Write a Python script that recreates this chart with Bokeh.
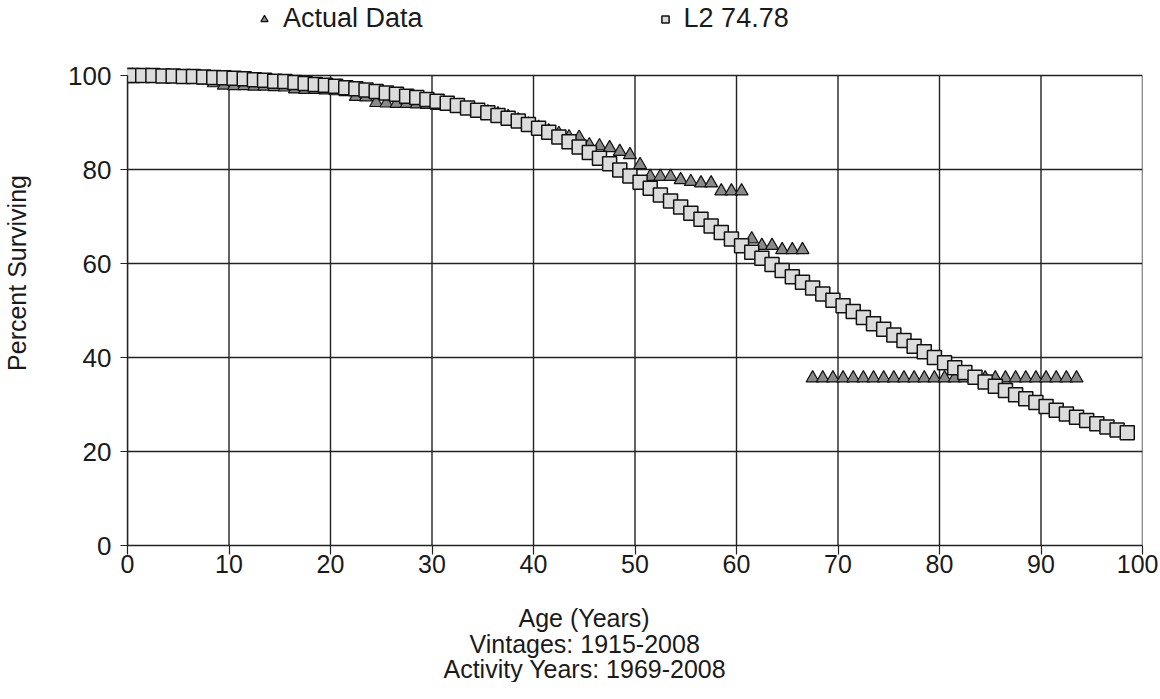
from bokeh.plotting import figure
from bokeh.models import Legend, LegendItem, Title, FixedTicker
from bokeh.embed import file_html
from bokeh.resources import INLINE

# ---- data ----
l2_age = [0] + [i + 0.5 for i in range(99)]
l2_pct = [100.0,
          100.0, 100.0, 100.0, 99.9, 99.9, 99.8, 99.8, 99.7, 99.6, 99.5,
          99.4, 99.3, 99.1, 99.0, 98.8, 98.7, 98.5, 98.3, 98.1, 97.9,
          97.7, 97.4, 97.2, 96.9, 96.6, 96.3, 96.0, 95.6, 95.3, 94.9,
          94.5, 94.1, 93.6, 93.1, 92.6, 92.1, 91.5, 90.9, 90.3, 89.6,
          88.8, 87.9, 86.9, 85.9, 84.8, 83.6, 82.4, 81.2, 79.9, 78.6,
          77.3, 76.0, 74.6, 73.3, 72.0, 70.7, 69.4, 68.0, 66.6, 65.2,
          63.8, 62.4, 61.1, 59.8, 58.5, 57.2, 56.0, 54.8, 53.5, 52.2,
          51.0, 49.8, 48.5, 47.2, 46.0, 44.8, 43.6, 42.4, 41.2, 40.0,
          38.9, 37.8, 36.8, 35.8, 34.8, 33.9, 33.0, 32.1, 31.2, 30.4,
          29.6, 28.8, 28.0, 27.3, 26.6, 25.9, 25.2, 24.6, 24.0]

act_age = [0] + [i + 0.5 for i in range(94)]
act_pct = [100.0,
           100.0, 99.8, 99.6, 99.5, 99.4, 99.3, 99.1, 99.0, 98.4, 97.9,
           97.8, 97.8, 97.7, 97.7, 97.6, 97.5, 97.1, 97.0, 97.0, 96.9,
           96.7, 96.5, 95.5, 95.4, 94.2, 94.1, 94.0, 94.0, 93.9, 93.8,
           93.6, 93.4, 93.2, 92.8, 92.5, 92.2, 91.8, 91.2, 90.5, 89.6,
           88.9, 88.2, 87.6, 86.9, 86.8, 85.2, 85.0, 84.6, 83.8, 83.1,
           81.0, 78.5, 78.5, 78.5, 77.8, 77.4, 77.1, 77.1, 75.4, 75.4,
           75.4, 65.2, 63.8, 63.8, 62.9, 62.9, 62.9,
           35.6, 35.6, 35.6, 35.6, 35.6, 35.6, 35.6, 35.6, 35.6, 35.6,
           35.6, 35.6, 35.6, 35.6, 35.6, 35.6, 35.6, 35.6, 35.6, 35.6,
           35.6, 35.6, 35.6, 35.6, 35.6, 35.6, 35.6]

x_ticks = [0, 10, 20, 30, 40, 50, 60, 70, 80, 90, 100]
y_ticks = [0, 20, 40, 60, 80, 100]
x_title_lines = ["Age (Years)", "Vintages: 1915-2008", "Activity Years: 1969-2008"]

FONT = "Liberation Sans"
INK = "#1a1a1a"
GRID = "#222222"

FRAME_H = 545          # 470 px for 0..100 plus room for the legend on top
Y_TOP = 100 * FRAME_H / 470.0

p = figure(frame_width=1015, frame_height=FRAME_H,
           x_range=(0, 100), y_range=(0, Y_TOP),
           output_backend="svg", toolbar_location=None,
           min_border_left=127, min_border_right=16,
           min_border_top=0, min_border_bottom=4,
           background_fill_color="white", border_fill_color="white",
           outline_line_color=None)

p.ygrid.grid_line_color = GRID
p.ygrid.grid_line_width = 1.4
p.xgrid.grid_line_color = None
p.segment(x0=x_ticks, y0=[0] * len(x_ticks), x1=x_ticks,
          y1=[100] * len(x_ticks), line_color=GRID, line_width=1.4)

p.xaxis.ticker = FixedTicker(ticks=x_ticks)
p.yaxis.ticker = FixedTicker(ticks=y_ticks)
p.yaxis.bounds = (0, 100)

for ax in (p.xaxis, p.yaxis):
    ax.axis_line_color = GRID
    ax.axis_line_width = 1.4
    ax.major_tick_line_color = GRID
    ax.major_tick_line_width = 1.2
    ax.major_tick_in = 0
    ax.minor_tick_line_color = None
    ax.major_label_text_font = FONT
    ax.major_label_text_color = INK
    ax.major_label_text_font_size = "25px"

p.yaxis.major_label_text_font_size = "26px"
p.xaxis.major_tick_out = 9
p.xaxis.major_label_standoff = 0
p.yaxis.major_tick_out = 7
p.yaxis.major_label_standoff = 9

p.yaxis.axis_label = "Percent Surviving"
p.yaxis.axis_label_text_font = FONT
p.yaxis.axis_label_text_font_style = "normal"
p.yaxis.axis_label_text_font_size = "25px"
p.yaxis.axis_label_text_color = INK
p.yaxis.axis_label_standoff = 34

r_act = p.scatter(act_age, act_pct, marker="triangle", size=13,
                  fill_color="#8a8a8a", line_color="#111111", line_width=1.2)
r_l2 = p.scatter(l2_age, l2_pct, marker="square", size=14,
                 fill_color="#dcdcdc", line_color="#111111", line_width=1.5)

# spacer, then the three centred lines of the x title block
p.add_layout(Title(text=" ", text_font_size="2px", standoff=21), "below")
title_offsets = [391, 342, 316]
title_standoffs = [2, -10, 0]
for i, t in enumerate(x_title_lines):
    p.add_layout(Title(text=t, align="left", offset=title_offsets[i],
                       text_font=FONT, text_font_size="25px",
                       text_font_style="normal", text_color=INK,
                       standoff=title_standoffs[i]), "below")

legend = Legend(items=[LegendItem(label="Actual Data", renderers=[r_act]),
                       LegendItem(label="L2 74.78", renderers=[r_l2])],
                orientation="horizontal", location=(128, 511),
                spacing=233, label_standoff=10, glyph_width=18,
                glyph_height=18, padding=4, margin=0,
                label_text_font=FONT, label_text_font_size="27px",
                label_text_color=INK,
                border_line_color=None, background_fill_alpha=0)
p.add_layout(legend, "center")

open("out.html", "w").write(file_html(p, INLINE))
